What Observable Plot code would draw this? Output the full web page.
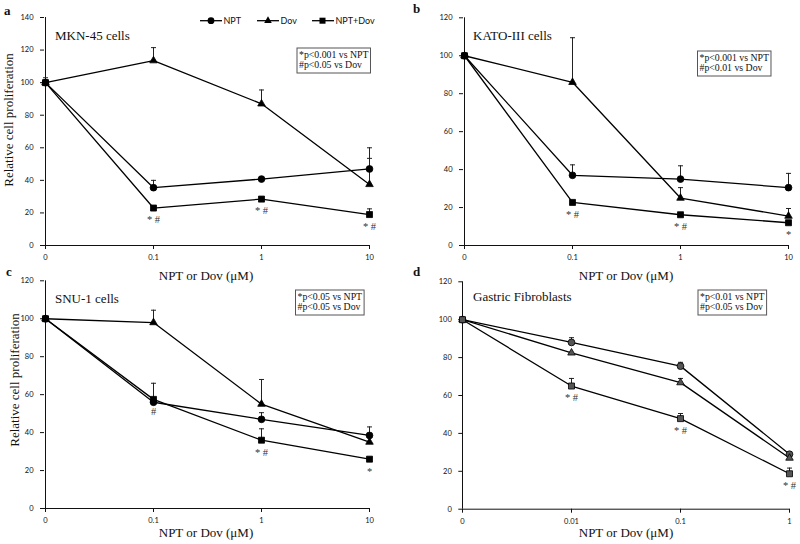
<!DOCTYPE html>
<html><head><meta charset="utf-8">
<script src="https://cdn.jsdelivr.net/npm/d3@7"></script>
<script src="https://cdn.jsdelivr.net/npm/@observablehq/plot@0.6"></script>
<style>
body{margin:0;background:#fff;}
#wrap{position:relative;width:800px;height:544px;overflow:hidden;background:#fff;}
.panel{position:absolute;}
#overlay{position:absolute;left:0;top:0;pointer-events:none;}
</style></head><body><div id="wrap"></div>
<script>
// ---- data ----
const seriesNames = ["NPT", "Dov", "NPT+Dov"];
const dosesABC = ["0", "0.1", "1", "10"];
const dosesD = ["0", "0.01", "0.1", "1"];

// a: MKN-45
const aNPT = [100, 35.5, 40.8, 47];
const aNPTerr = [3, 4.5, 1, 13];
const aDov = [100, 113.5, 87, 37.5];
const aDovErr = [0, 8, 8.5, 16];
const aCombo = [100, 23, 28.5, 19];
const aComboErr = [0, 1, 1, 3.5];
const aNotes = ["", "* #", "* #", "* #"];

// b: KATO-III
const bNPT = [100, 37, 35, 30.5];
const bNPTerr = [0, 5.5, 7, 7.5];
const bDov = [100, 86, 25, 15.5];
const bDovErr = [0, 23.5, 5.5, 4];
const bCombo = [100, 22.7, 16.2, 12];
const bComboErr = [0, 0, 0, 0];
const bNotes = ["", "* #", "* #", "*"];

// c: SNU-1
const cNPT = [100, 56, 47, 38.5];
const cNPTerr = [0, 0, 3.5, 4.5];
const cDov = [100, 98, 55, 35];
const cDovErr = [0, 6.5, 13, 0];
const cCombo = [100, 57.5, 36, 26];
const cComboErr = [0, 8.5, 6, 0];
const cNotes = ["", "#", "* #", "*"];

// d: Gastric fibroblasts
const dNPT = [100, 88, 75.5, 29];
const dNPTerr = [0, 2.5, 2, 0];
const dDov = [100, 82.5, 66.8, 27];
const dDovErr = [0, 0, 2.2, 0];
const dCombo = [100, 65, 47.8, 18.7];
const dComboErr = [0, 4, 2.7, 3];
const dNotes = ["", "* #", "* #", "* #"];

const panelLetters = ["a", "b", "c", "d"];
const cellTitles = ["MKN-45 cells", "KATO-III cells", "SNU-1 cells", "Gastric Fibroblasts"];
const statLines = [
  ["*p<0.001 vs NPT", "#p<0.05 vs Dov"],
  ["*p<0.001 vs NPT", "#p<0.01 vs Dov"],
  ["*p<0.05 vs NPT", "#p<0.05 vs Dov"],
  ["*p<0.01 vs NPT", "#p<0.05 vs Dov"]
];
const xTitle = "NPT or Dov (\u03bcM)";
const yTitle = "Relative cell proliferation";

// ---- drawing ----
const capSymbol = {draw(ctx, size) { const r = Math.sqrt(size / Math.PI); ctx.moveTo(-r, 0); ctx.lineTo(r, 0); }};
const symbolOf = {"NPT": "circle", "Dov": "triangle", "NPT+Dov": "square"};
const rOf = {"NPT": 3.4, "Dov": 2.8, "NPT+Dov": 3.4};

function makePanel({doses, ymax, vals, errs, notes, m, fill}) {
  const rows = [];
  seriesNames.forEach((s, si) => doses.forEach((d, i) => rows.push({
    series: s, dose: d, v: vals[si][i], e: errs[si][i], note: si === 2 ? notes[i] : ""
  })));
  const errRows = rows.filter(r => r.e > 0);
  const noteRows = rows.filter(r => r.note);
  return Plot.plot({
    width: 400, height: 272,
    marginTop: m[0], marginRight: m[1], marginBottom: m[2], marginLeft: m[3],
    style: {overflow: "visible", fontFamily: "Lato, 'Open Sans', sans-serif", fontSize: "7.5px", color: "#111", background: "transparent"},
    x: {type: "point", domain: doses, padding: 0, label: null, tickSize: 4, tickPadding: 5},
    y: {domain: [0, ymax], ticks: d3.range(0, ymax + 1, 20), label: null, tickSize: 4, tickPadding: 7},
    marks: [
      Plot.ruleY([0], {stroke: "#111", strokeWidth: 1}),
      Plot.ruleX([doses[0]], {stroke: "#111", strokeWidth: 1}),
      Plot.ruleX(errRows, {x: "dose", y1: "v", y2: r => r.v + r.e, stroke: "#222", strokeWidth: 1}),
      Plot.dot(errRows, {x: "dose", y: r => r.v + r.e, symbol: capSymbol, r: 2.5, stroke: "#222", fill: "none", strokeWidth: 1}),
      Plot.line(rows, {x: "dose", y: "v", z: "series", stroke: "#000", strokeWidth: 1.3}),
      ...seriesNames.map(s => Plot.dot(rows.filter(r => r.series === s), {
        x: "dose", y: "v", symbol: symbolOf[s], r: rOf[s], fill: fill, stroke: "#000", strokeWidth: 0.8
      })),
      Plot.text(noteRows, {x: "dose", y: "v", text: "note", dy: 12, fontFamily: "'Liberation Serif', serif", fontSize: 10.5, fill: "#333"})
    ]
  });
}

const wrap = document.getElementById("wrap");
const panels = [
  {left: 0, top: 0, doses: dosesABC, ymax: 140, vals: [aNPT, aDov, aCombo], errs: [aNPTerr, aDovErr, aComboErr], notes: aNotes, m: [17, 30, 27, 44], fill: "#000"},
  {left: 400, top: 0, doses: dosesABC, ymax: 120, vals: [bNPT, bDov, bCombo], errs: [bNPTerr, bDovErr, bComboErr], notes: bNotes, m: [17.3, 11, 27, 63], fill: "#000"},
  {left: 0, top: 272, doses: dosesABC, ymax: 120, vals: [cNPT, cDov, cCombo], errs: [cNPTerr, cDovErr, cComboErr], notes: cNotes, m: [8.3, 30, 36, 44], fill: "#000"},
  {left: 400, top: 272, doses: dosesD, ymax: 120, vals: [dNPT, dDov, dCombo], errs: [dNPTerr, dDovErr, dComboErr], notes: dNotes, m: [9.3, 10.7, 35.3, 62.3], fill: "#555"}
];
panels.forEach(p => {
  const div = document.createElement("div");
  div.className = "panel";
  div.style.left = p.left + "px";
  div.style.top = p.top + "px";
  div.appendChild(makePanel(p));
  wrap.appendChild(div);
});

// ---- overlay: letters, titles, legend, stat boxes ----
const svg = d3.select(wrap).append("svg").attr("id", "overlay").attr("width", 800).attr("height", 544);
const serif = "'Liberation Serif', 'Times New Roman', serif";

const letterPos = [[4, 15], [413, 13], [6, 276], [413, 276]];
panelLetters.forEach((l, i) => svg.append("text").attr("x", letterPos[i][0]).attr("y", letterPos[i][1])
  .attr("font-family", serif).attr("font-weight", "bold").attr("font-size", 13).attr("fill", "#111").text(l));

const titlePos = [[55, 39.5], [473, 40], [55, 302.5], [473, 301]];
cellTitles.forEach((t, i) => svg.append("text").attr("x", titlePos[i][0]).attr("y", titlePos[i][1])
  .attr("font-family", serif).attr("font-size", 13).attr("fill", "#111").text(t));

[[206, 280], [206, 537], [626, 537]].forEach(([x, y]) => svg.append("text").attr("x", x).attr("y", y)
  .attr("text-anchor", "middle").attr("font-family", serif).attr("font-size", 13).attr("fill", "#111").text(xTitle));
[[626, 280]].forEach(([x, y]) => svg.append("text").attr("x", x).attr("y", y)
  .attr("text-anchor", "middle").attr("font-family", serif).attr("font-size", 13).attr("fill", "#111").text(xTitle));

[[12.5, 120], [19, 380]].forEach(([x, y]) => svg.append("text")
  .attr("transform", `translate(${x},${y}) rotate(-90)`).attr("text-anchor", "middle")
  .attr("font-family", serif).attr("font-size", 13).attr("fill", "#111").text(yTitle));

// legend
const legendItems = [
  {name: "NPT", x1: 200, x2: 222, mx: 211, tx: 223.5},
  {name: "Dov", x1: 257, x2: 279, mx: 268, tx: 280.5},
  {name: "NPT+Dov", x1: 312, x2: 334, mx: 322.5, tx: 335.5}
];
const ly = 20.7;
const d3sym = {"NPT": d3.symbolCircle, "Dov": d3.symbolTriangle, "NPT+Dov": d3.symbolSquare};
legendItems.forEach(it => {
  const g = svg.append("g");
  g.append("line").attr("x1", it.x1).attr("x2", it.x2).attr("y1", ly).attr("y2", ly).attr("stroke", "#000").attr("stroke-width", 1.3);
  const r = rOf[it.name];
  g.append("path").attr("d", d3.symbol(d3sym[it.name], Math.PI * r * r)()).attr("transform", `translate(${it.mx},${ly})`).attr("fill", "#000");
  g.append("text").attr("x", it.tx).attr("y", ly + 3).attr("font-family", "Lato, 'Open Sans', sans-serif").attr("font-size", 9).attr("fill", "#111").text(it.name);
});

// stat boxes
const boxPos = [[297, 48], [697.5, 51], [295.5, 290], [698, 290]];
statLines.forEach((lines, i) => {
  const [bx, by] = boxPos[i];
  const g = svg.append("g");
  const rect = g.append("rect");
  const texts = lines.map((t, j) => g.append("text").attr("x", bx + 2).attr("y", by + 10.3 + j * 10)
    .attr("font-family", serif).attr("font-size", 9.8).attr("fill", "#111").text(t));
  const w = d3.max(texts, t => t.node().getComputedTextLength());
  rect.attr("x", bx).attr("y", by).attr("width", w + 4).attr("height", 25)
    .attr("fill", "#fff").attr("stroke", "#555").attr("stroke-width", 1);
});
</script></body></html>
